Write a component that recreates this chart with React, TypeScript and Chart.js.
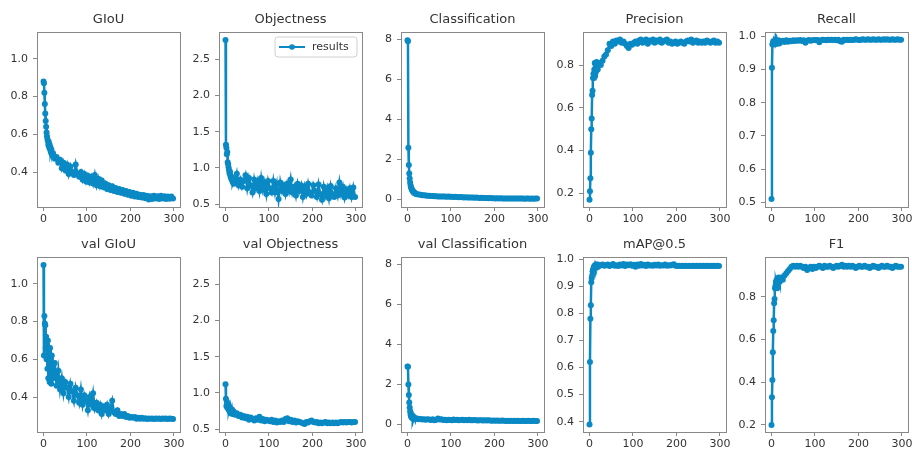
import React, { useEffect, useRef } from 'react';
import { Chart, registerables } from 'chart.js';

Chart.register(...registerables);

// Epochs sampled (every epoch early on, then every 4th)
const EPOCHS = [
  0, 1, 2, 3, 4, 5, 6, 7, 8, 9,
  10, 11, 12, 13, 14, 15, 16, 17, 18, 19,
  22, 26, 30, 34, 38, 42, 46, 50, 54, 58,
  62, 66, 70, 74, 78, 82, 86, 90, 94, 98,
  102, 106, 110, 114, 118, 122, 126, 130, 134, 138,
  142, 146, 150, 154, 158, 162, 166, 170, 174, 178,
  182, 186, 190, 194, 198, 202, 206, 210, 214, 218,
  222, 226, 230, 234, 238, 242, 246, 250, 254, 258,
  262, 266, 270, 274, 278, 282, 286, 290, 294, 298,
];

const X_TICKS = [0, 100, 200, 300];

const GIOU = [
  0.88, 0.87, 0.82, 0.76, 0.71, 0.67, 0.64, 0.61, 0.59, 0.575,
  0.565, 0.545, 0.56, 0.53, 0.545, 0.52, 0.53, 0.505, 0.52, 0.495,
  0.50, 0.47, 0.48, 0.45, 0.465, 0.42, 0.45, 0.41, 0.44, 0.39,
  0.43, 0.40, 0.385, 0.44, 0.39, 0.375, 0.40, 0.36, 0.39, 0.35,
  0.38, 0.345, 0.375, 0.34, 0.385, 0.33, 0.365, 0.325, 0.355, 0.32,
  0.34, 0.31, 0.33, 0.305, 0.325, 0.30, 0.315, 0.295, 0.31, 0.29,
  0.305, 0.285, 0.30, 0.28, 0.295, 0.275, 0.29, 0.27, 0.285, 0.268,
  0.28, 0.265, 0.278, 0.262, 0.274, 0.255, 0.272, 0.258, 0.274, 0.26,
  0.272, 0.258, 0.274, 0.26, 0.272, 0.258, 0.27, 0.259, 0.271, 0.26,
];

const OBJECTNESS = [
  2.77, 1.32, 1.28, 1.19, 1.22, 1.08, 1.05, 1.01, 0.97, 0.93,
  0.95, 0.90, 0.88, 0.86, 0.84, 0.87, 0.82, 0.80, 0.83, 0.78,
  0.80, 0.92, 0.76, 0.84, 0.74, 0.82, 0.90, 0.72, 0.86, 0.76,
  0.66, 0.84, 0.72, 0.82, 0.68, 0.86, 0.70, 0.80, 0.64, 0.82,
  0.72, 0.66, 0.82, 0.66, 0.78, 0.57, 0.80, 0.68, 0.76, 0.64,
  0.78, 0.68, 0.84, 0.66, 0.74, 0.62, 0.78, 0.68, 0.76, 0.60,
  0.74, 0.64, 0.78, 0.66, 0.62, 0.76, 0.68, 0.60, 0.77, 0.64,
  0.56, 0.74, 0.62, 0.72, 0.58, 0.75, 0.64, 0.60, 0.72, 0.62,
  0.80, 0.64, 0.74, 0.59, 0.70, 0.62, 0.72, 0.60, 0.73, 0.60,
];

const CLASSIFICATION = [
  7.95, 7.90, 2.58, 1.72, 1.30, 1.05, 0.85, 0.72, 0.62, 0.55,
  0.50, 0.46, 0.42, 0.40, 0.37, 0.35, 0.33, 0.32, 0.30, 0.29,
  0.27, 0.25, 0.24, 0.22, 0.21, 0.20, 0.19, 0.19, 0.18, 0.18,
  0.17, 0.17, 0.16, 0.16, 0.15, 0.16, 0.15, 0.14, 0.15, 0.14,
  0.14, 0.13, 0.14, 0.13, 0.12, 0.13, 0.12, 0.11, 0.12, 0.11,
  0.10, 0.11, 0.10, 0.09, 0.10, 0.09, 0.08, 0.09, 0.08, 0.08,
  0.08, 0.07, 0.08, 0.07, 0.07, 0.06, 0.07, 0.06, 0.07, 0.06,
  0.06, 0.06, 0.05, 0.06, 0.05, 0.06, 0.05, 0.05, 0.06, 0.05,
  0.05, 0.05, 0.04, 0.05, 0.05, 0.04, 0.05, 0.04, 0.05, 0.05,
];

const PRECISION = [
  0.17, 0.21, 0.27, 0.39, 0.50, 0.55, 0.66, 0.68, 0.74, 0.76,
  0.74, 0.78, 0.81, 0.75, 0.80, 0.77, 0.815, 0.79, 0.80, 0.78,
  0.81, 0.80, 0.82, 0.84, 0.85, 0.87, 0.90, 0.89, 0.91, 0.90,
  0.915, 0.91, 0.92, 0.905, 0.91, 0.90, 0.89, 0.88, 0.90, 0.895,
  0.905, 0.91, 0.90, 0.915, 0.92, 0.905, 0.91, 0.92, 0.90, 0.915,
  0.91, 0.92, 0.905, 0.915, 0.91, 0.92, 0.905, 0.91, 0.915, 0.92,
  0.905, 0.91, 0.90, 0.905, 0.91, 0.90, 0.905, 0.91, 0.905, 0.90,
  0.91, 0.915, 0.91, 0.92, 0.905, 0.91, 0.915, 0.905, 0.91, 0.905,
  0.91, 0.905, 0.915, 0.91, 0.905, 0.91, 0.915, 0.905, 0.91, 0.905,
];

const RECALL = [
  0.51, 0.905, 0.975, 0.98, 0.985, 0.975, 0.982, 0.978, 0.985, 0.98,
  0.983, 0.977, 0.985, 0.98, 0.986, 0.982, 0.988, 0.983, 0.978, 0.985,
  0.984, 0.987, 0.983, 0.988, 0.984, 0.987, 0.985, 0.988, 0.986, 0.988,
  0.987, 0.989, 0.986, 0.988, 0.981, 0.987, 0.989, 0.987, 0.988, 0.989,
  0.988, 0.989, 0.982, 0.988, 0.99, 0.989, 0.988, 0.99, 0.989, 0.99,
  0.989, 0.99, 0.988, 0.99, 0.985, 0.984, 0.99, 0.989, 0.99, 0.989,
  0.99, 0.989, 0.99, 0.991, 0.99, 0.989, 0.99, 0.991, 0.99, 0.99,
  0.991, 0.99, 0.99, 0.991, 0.99, 0.99, 0.991, 0.99, 0.99, 0.991,
  0.99, 0.991, 0.99, 0.99, 0.991, 0.99, 0.99, 0.991, 0.99, 0.99,
];

const VAL_GIOU = [
  1.10, 0.62, 0.83, 0.79, 0.78, 0.66, 0.72, 0.60, 0.68, 0.55,
  0.70, 0.50, 0.64, 0.58, 0.48, 0.66, 0.52, 0.60, 0.47, 0.62,
  0.50, 0.58, 0.46, 0.54, 0.44, 0.50, 0.42, 0.48, 0.45, 0.40,
  0.47, 0.43, 0.38, 0.45, 0.41, 0.37, 0.44, 0.36, 0.41, 0.38,
  0.33, 0.40, 0.36, 0.42, 0.34, 0.37, 0.33, 0.36, 0.31, 0.35,
  0.33, 0.36, 0.31, 0.34, 0.38, 0.32, 0.31, 0.33, 0.30, 0.31,
  0.30, 0.31, 0.295, 0.30, 0.29, 0.295, 0.29, 0.295, 0.285, 0.29,
  0.285, 0.29, 0.285, 0.288, 0.284, 0.286, 0.285, 0.287, 0.284, 0.286,
  0.285, 0.287, 0.284, 0.286, 0.285, 0.287, 0.284, 0.286, 0.285, 0.284,
];

const VAL_OBJECTNESS = [
  1.12, 0.92, 0.82, 0.88, 0.80, 0.84, 0.78, 0.82, 0.76, 0.80,
  0.74, 0.78, 0.72, 0.76, 0.73, 0.77, 0.71, 0.75, 0.72, 0.74,
  0.70, 0.72, 0.68, 0.70, 0.66, 0.68, 0.65, 0.67, 0.63, 0.66,
  0.64, 0.62, 0.65, 0.63, 0.67, 0.62, 0.64, 0.61, 0.63, 0.62,
  0.61, 0.63, 0.60, 0.62, 0.59, 0.61, 0.60, 0.62, 0.60, 0.64,
  0.65, 0.61, 0.63, 0.60, 0.62, 0.59, 0.61, 0.60, 0.59, 0.58,
  0.57, 0.60, 0.59, 0.61, 0.62, 0.60, 0.59, 0.60, 0.58, 0.59,
  0.58, 0.59, 0.60, 0.58, 0.59, 0.58, 0.59, 0.58, 0.59, 0.58,
  0.59, 0.60, 0.59, 0.60, 0.59, 0.60, 0.60, 0.59, 0.60, 0.60,
];

const VAL_CLASSIFICATION = [
  2.90, 2.88, 2.00, 1.48, 1.10, 0.85, 0.65, 0.50, 0.42, 0.38,
  0.34, 0.45, 0.30, 0.40, 0.28, 0.35, 0.27, 0.32, 0.30, 0.28,
  0.30, 0.26, 0.28, 0.25, 0.27, 0.24, 0.26, 0.25, 0.23, 0.26,
  0.22, 0.24, 0.30, 0.25, 0.26, 0.23, 0.24, 0.22, 0.24, 0.23,
  0.22, 0.25, 0.23, 0.24, 0.22, 0.23, 0.24, 0.22, 0.23, 0.21,
  0.24, 0.22, 0.21, 0.23, 0.22, 0.20, 0.22, 0.21, 0.20, 0.21,
  0.20, 0.21, 0.20, 0.19, 0.20, 0.19, 0.20, 0.19, 0.19, 0.20,
  0.19, 0.18, 0.19, 0.18, 0.19, 0.18, 0.19, 0.18, 0.19, 0.18,
  0.18, 0.19, 0.18, 0.18, 0.19, 0.18, 0.18, 0.19, 0.18, 0.18,
];

const MAP05 = [
  0.39, 0.62, 0.78, 0.83, 0.915, 0.93, 0.94, 0.955, 0.96, 0.965,
  0.97, 0.975, 0.968, 0.978, 0.972, 0.98, 0.975, 0.978, 0.97, 0.98,
  0.975, 0.978, 0.98, 0.976, 0.978, 0.98, 0.975, 0.978, 0.982, 0.976,
  0.978, 0.975, 0.98, 0.977, 0.982, 0.975, 0.98, 0.978, 0.981, 0.976,
  0.979, 0.972, 0.98, 0.976, 0.982, 0.977, 0.979, 0.975, 0.98, 0.977,
  0.978, 0.976, 0.979, 0.977, 0.98, 0.976, 0.978, 0.977, 0.98, 0.976,
  0.978, 0.977, 0.979, 0.981, 0.976, 0.975, 0.976, 0.975, 0.976, 0.975,
  0.976, 0.975, 0.976, 0.975, 0.976, 0.975, 0.976, 0.975, 0.976, 0.975,
  0.976, 0.975, 0.976, 0.975, 0.976, 0.975, 0.976, 0.975, 0.976, 0.975,
];

const F1 = [
  0.20, 0.33, 0.41, 0.54, 0.64, 0.69, 0.77, 0.79, 0.84, 0.85,
  0.87, 0.86, 0.88, 0.84, 0.88, 0.86, 0.89, 0.87, 0.88, 0.87,
  0.89, 0.88, 0.90, 0.91, 0.92, 0.93, 0.94, 0.945, 0.94, 0.945,
  0.94, 0.945, 0.94, 0.935, 0.94, 0.925, 0.935, 0.94, 0.93, 0.94,
  0.935, 0.94, 0.945, 0.94, 0.935, 0.945, 0.94, 0.94, 0.945, 0.94,
  0.935, 0.94, 0.945, 0.94, 0.945, 0.95, 0.94, 0.945, 0.94, 0.945,
  0.94, 0.945, 0.94, 0.935, 0.94, 0.945, 0.94, 0.94, 0.945, 0.94,
  0.94, 0.935, 0.94, 0.945, 0.94, 0.94, 0.935, 0.94, 0.945, 0.94,
  0.94, 0.945, 0.94, 0.94, 0.935, 0.94, 0.945, 0.94, 0.94, 0.94,
];

const TICKS_GIOU = [0.4, 0.6, 0.8, 1.0];
const TICKS_OBJ = [0.5, 1.0, 1.5, 2.0, 2.5];
const TICKS_CLS = [0, 2, 4, 6, 8];
const TICKS_PREC = [0.2, 0.4, 0.6, 0.8];
const TICKS_REC = [0.5, 0.6, 0.7, 0.8, 0.9, 1.0];
const TICKS_MAP = [0.4, 0.5, 0.6, 0.7, 0.8, 0.9, 1.0];
const TICKS_F1 = [0.2, 0.4, 0.6, 0.8];

const BLUE = '#0a89c4';
const AXIS = '#888888';
const TEXT = '#333333';
const FONT = 'DejaVu Sans';

type PanelCfg = {
  title: string;
  values: number[];
  ticks: number[];
  dec: number;
  min: number;
  max: number;
  legend?: boolean;
};

const ROW1: PanelCfg[] = [
  { title: 'GIoU', values: GIOU, ticks: TICKS_GIOU, dec: 1, min: 0.215, max: 1.142 },
  { title: 'Objectness', values: OBJECTNESS, ticks: TICKS_OBJ, dec: 1, min: 0.46, max: 2.88, legend: true },
  { title: 'Classification', values: CLASSIFICATION, ticks: TICKS_CLS, dec: 0, min: -0.37, max: 8.36 },
  { title: 'Precision', values: PRECISION, ticks: TICKS_PREC, dec: 1, min: 0.136, max: 0.955 },
  { title: 'Recall', values: RECALL, ticks: TICKS_REC, dec: 1, min: 0.486, max: 1.013 },
];

const ROW2: PanelCfg[] = [
  { title: 'val GIoU', values: VAL_GIOU, ticks: TICKS_GIOU, dec: 1, min: 0.215, max: 1.142 },
  { title: 'val Objectness', values: VAL_OBJECTNESS, ticks: TICKS_OBJ, dec: 1, min: 0.46, max: 2.88 },
  { title: 'val Classification', values: VAL_CLASSIFICATION, ticks: TICKS_CLS, dec: 0, min: -0.37, max: 8.36 },
  { title: 'mAP@0.5', values: MAP05, ticks: TICKS_MAP, dec: 1, min: 0.362, max: 1.008 },
  { title: 'F1', values: F1, ticks: TICKS_F1, dec: 1, min: 0.167, max: 0.986 },
];

const CANVAS_W = 200;
const CANVAS_H = 224;

function Panel({ cfg, left, top }: { cfg: PanelCfg; left: number; top: number }) {
  const ref = useRef<HTMLCanvasElement>(null);
  useEffect(() => {
    const canvas = ref.current;
    if (!canvas) return;
    const framePlugin = {
      id: 'frameTitle',
      afterDraw(chart: any) {
        const { ctx, chartArea } = chart;
        const { left: l, top: t, right: r, bottom: b } = chartArea;
        ctx.save();
        ctx.strokeStyle = AXIS;
        ctx.lineWidth = 1;
        ctx.strokeRect(Math.round(l) + 0.5, Math.round(t) + 0.5, Math.round(r - l), Math.round(b - t));
        ctx.fillStyle = TEXT;
        ctx.font = `13px "${FONT}"`;
        ctx.textAlign = 'center';
        ctx.textBaseline = 'middle';
        ctx.fillText(cfg.title, (l + r) / 2, t - 12);
        if (cfg.legend) {
          const w = 82;
          const h = 20;
          const x0 = r - 5 - w;
          const y0 = t + 5;
          ctx.fillStyle = 'rgba(255,255,255,0.85)';
          ctx.strokeStyle = '#d0d0d0';
          ctx.beginPath();
          ctx.roundRect(x0, y0, w, h, 3);
          ctx.fill();
          ctx.stroke();
          const cy = y0 + h / 2;
          ctx.strokeStyle = BLUE;
          ctx.lineWidth = 2;
          ctx.beginPath();
          ctx.moveTo(x0 + 4, cy);
          ctx.lineTo(x0 + 30, cy);
          ctx.stroke();
          ctx.fillStyle = BLUE;
          ctx.beginPath();
          ctx.arc(x0 + 17, cy, 2.8, 0, Math.PI * 2);
          ctx.fill();
          ctx.fillStyle = TEXT;
          ctx.font = `11px "${FONT}"`;
          ctx.textAlign = 'left';
          ctx.fillText('results', x0 + 37, cy);
        }
        ctx.restore();
      },
    };
    const chart = new Chart(canvas, {
      type: 'line',
      data: {
        datasets: [
          {
            label: 'results',
            data: EPOCHS.map((e, i) => ({ x: e, y: cfg.values[i] })),
            borderColor: BLUE,
            backgroundColor: BLUE,
            borderWidth: 2.5,
            pointRadius: 3,
            pointHoverRadius: 3,
            pointBorderWidth: 0,
            pointBackgroundColor: BLUE,
            tension: 0,
          },
        ],
      },
      options: {
        responsive: false,
        animation: false,
        events: [],
        layout: { padding: { left: 0, right: 20, top: 32, bottom: 0 } },
        plugins: {
          legend: { display: false },
          tooltip: { enabled: false },
          title: { display: false },
        },
        scales: {
          x: {
            type: 'linear',
            min: -15,
            max: 314,
            afterBuildTicks: (s: any) => {
              s.ticks = X_TICKS.map((v) => ({ value: v }));
            },
            afterFit: (s: any) => {
              s.height = 17;
            },
            ticks: {
              color: TEXT,
              font: { family: FONT, size: 11 },
              padding: 2,
              maxRotation: 0,
              autoSkip: false,
              callback: (v: any) => String(Math.round(Number(v))),
            },
            grid: { display: true, drawOnChartArea: false, drawTicks: true, tickLength: 4, color: AXIS },
            border: { display: true, color: AXIS, width: 1 },
          },
          y: {
            type: 'linear',
            min: cfg.min,
            max: cfg.max,
            afterBuildTicks: (s: any) => {
              s.ticks = cfg.ticks.map((v) => ({ value: v }));
            },
            afterFit: (s: any) => {
              s.width = 37;
            },
            ticks: {
              color: TEXT,
              font: { family: FONT, size: 11 },
              padding: 5,
              autoSkip: false,
              callback: (v: any) => Number(v).toFixed(cfg.dec),
            },
            grid: { display: true, drawOnChartArea: false, drawTicks: true, tickLength: 4, color: AXIS },
            border: { display: true, color: AXIS, width: 1 },
          },
        },
      },
      plugins: [framePlugin],
    } as any);
    return () => chart.destroy();
  }, [cfg]);
  return (
    <canvas
      ref={ref}
      width={CANVAS_W}
      height={CANVAS_H}
      style={{ position: 'absolute', left, top, width: CANVAS_W, height: CANVAS_H }}
    />
  );
}

const COL_LEFTS = [0, 182, 364, 546, 728];
const ROW_TOPS = [0, 225];

export default function App() {
  return (
    <div
      style={{
        position: 'absolute',
        left: 0,
        top: 0,
        width: 912,
        height: 449,
        overflow: 'hidden',
        background: '#ffffff',
      }}
    >
      {ROW1.map((cfg, i) => (
        <Panel key={'r1' + i} cfg={cfg} left={COL_LEFTS[i]} top={ROW_TOPS[0]} />
      ))}
      {ROW2.map((cfg, i) => (
        <Panel key={'r2' + i} cfg={cfg} left={COL_LEFTS[i]} top={ROW_TOPS[1]} />
      ))}
    </div>
  );
}
